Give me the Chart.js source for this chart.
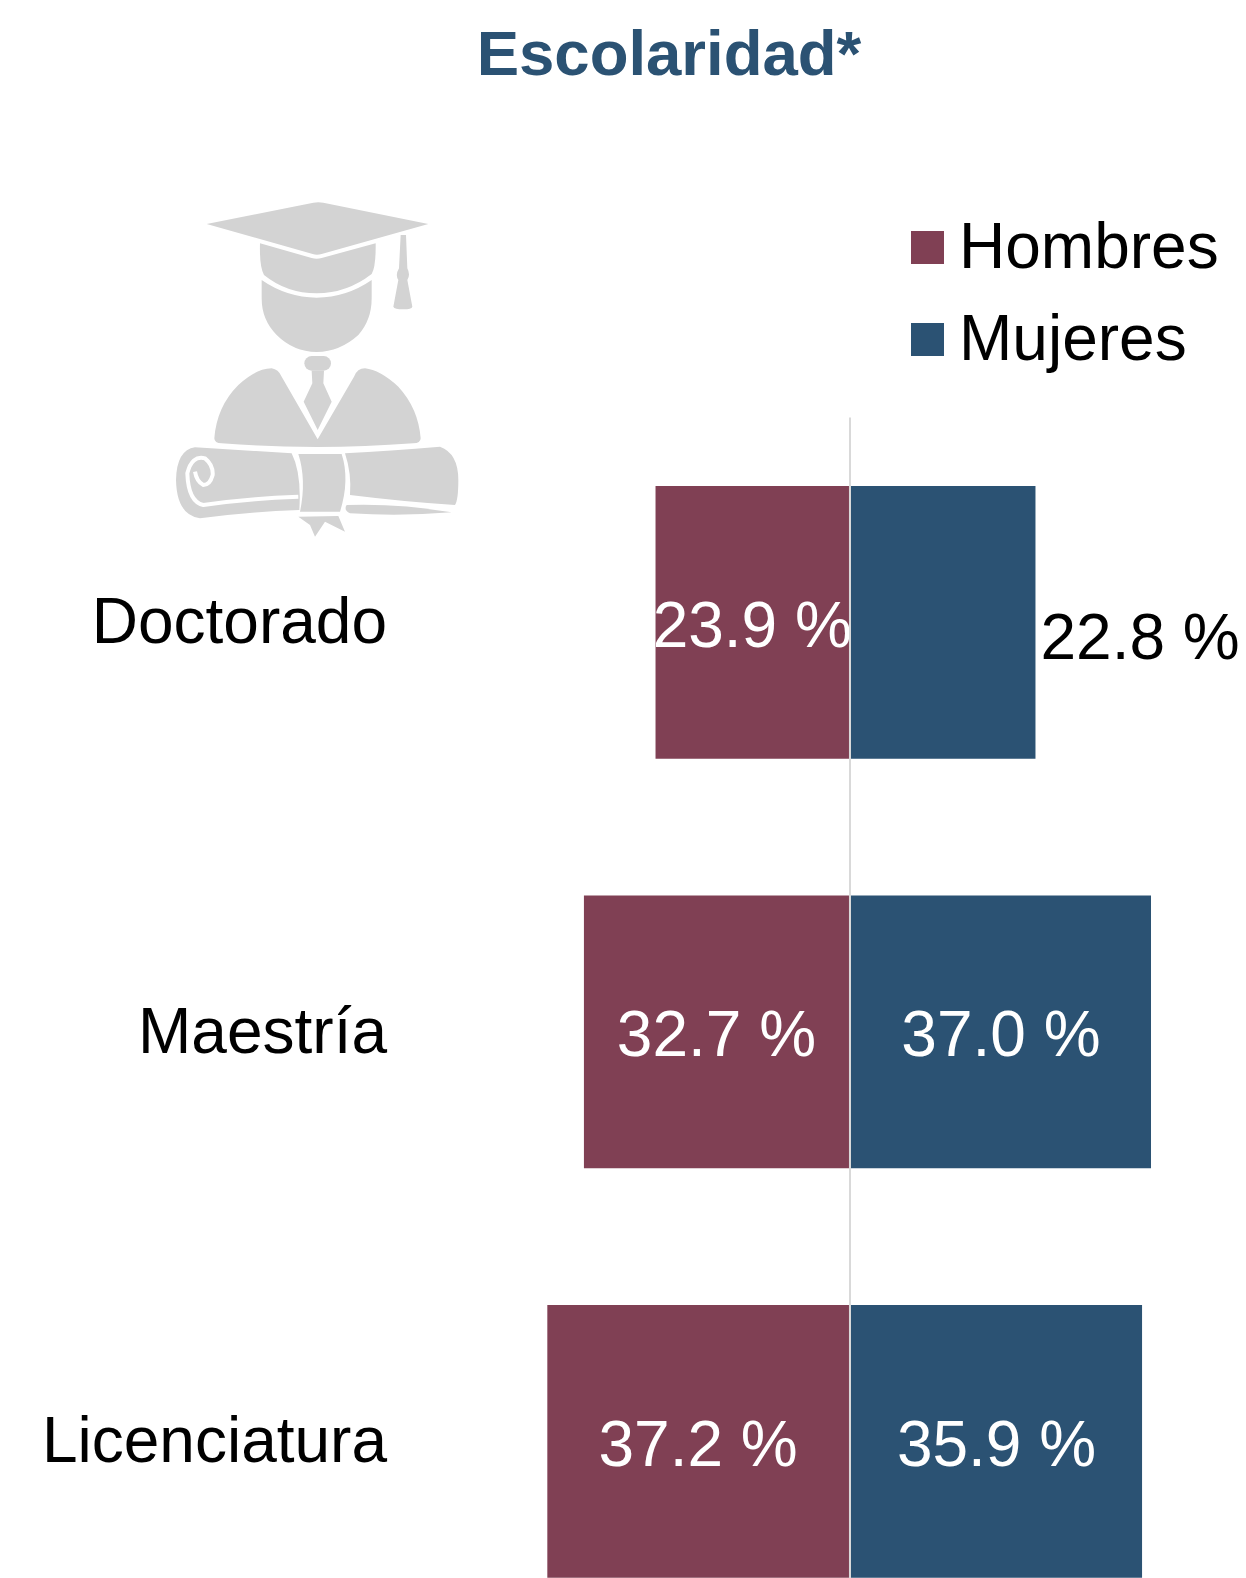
<!DOCTYPE html>
<html lang="es">
<head>
    <meta charset="UTF-8">
    <title>Escolaridad</title>
    <script src="https://cdn.jsdelivr.net/npm/chart.js"></script>
    <style>
        html, body {
            margin: 0;
            width: 1246px;
            height: 1578px;
            overflow: hidden;
            background: #fff;
            font-family: "Liberation Sans", Arial, sans-serif;
        }
        #lienzo {
            position: absolute;
            left: 0;
            top: 0;
        }
        h1 {
            position: absolute;
            left: 0;
            top: 15px;
            width: 1338px;
            margin: 0;
            text-align: center;
            font-size: 63.5px;
            line-height: 76px;
            font-weight: bold;
            color: #2b5273;
        }
        #icono {
            position: absolute;
            left: 150px;
            top: 180px;
            filter: blur(0.5px);
        }
        #leyenda {
            position: absolute;
            left: 911px;
            top: 201px;
        }
        .item {
            display: flex;
            align-items: center;
            height: 92px;
            font-size: 64px;
            color: #000;
        }
        .item b {
            font-weight: normal;
            position: relative;
            top: -1px;
        }
        .cuadro {
            width: 33px;
            height: 33px;
            margin-right: 15px;
        }
    </style>
</head>
<body>
    <h1>Escolaridad*</h1>

    <svg id="icono" width="330" height="370" viewBox="0 0 990 1110" fill="#d3d3d3">
        <path d="M170,132 L490,68 Q505,66 520,68 L835,132 L515,222 Q500,226 488,222 Z"/>
        <path d="M330,190 L485,234 Q500,238 515,234 L677,190 Q678,260 665,282 Q590,340 500,340 Q410,340 342,285 Q328,260 330,190 Z"/>
        <path d="M335,300 Q410,352 500,353 Q590,352 665,300 L665,355 Q665,420 625,465 Q570,515 500,516 Q430,515 380,465 Q335,420 335,355 Z"/>
        <path d="M752,165 L768,165 L772,265 Q782,285 772,300 L787,380 Q785,388 760,388 Q733,388 730,380 L745,300 Q735,285 747,265 Z"/>
        <rect x="463" y="528" width="80" height="44" rx="22"/>
        <path d="M485,572 L522,572 L520,610 L545,665 L503,750 L461,665 L487,610 Z"/>
        <path d="M193,775 Q200,680 265,615 Q320,565 365,565 Q385,568 395,590 L503,778 L612,590 Q622,565 645,565 Q690,570 745,620 Q805,685 812,775 Q812,790 790,790 Q500,812 215,790 Q193,790 193,775 Z"/>
        <path d="M135,802 L425,820 Q455,880 448,990 Q300,995 150,1015 Q80,1005 78,900 Q80,810 135,802 Z"/>
        <path d="M445,950 Q300,955 160,975 Q115,965 112,880 Q125,825 165,835 Q190,855 188,885 Q180,915 160,915 Q140,905 135,875" fill="none" stroke="#fff" stroke-width="12"/>
        <path d="M445,822 L575,822 Q600,900 570,995 L450,995 Q470,900 445,822 Z"/>
        <path d="M585,820 Q720,812 870,800 Q925,820 925,900 Q925,960 915,975 Q760,965 600,945 Q605,880 585,820 Z"/>
        <path d="M590,975 Q750,970 905,997 Q750,1010 600,1000 Q580,990 590,975 Z"/>
        <path d="M445,1010 L565,1008 L585,1055 L525,1025 L495,1070 L480,1035 Z"/>
    </svg>

    <div id="leyenda"></div>
    <canvas id="lienzo" width="1246" height="1700"></canvas>

    <script>
        const categorias = ['Doctorado', 'Maestría', 'Licenciatura'];
        const hombres = [23.9, 32.7, 37.2];
        const mujeres = [22.8, 37.0, 35.9];
        const colorHombres = '#804054';
        const colorMujeres = '#2b5273';

        // Etiquetas de valor sobre cada barra
        const etiquetasBarras = {
            id: 'etiquetasBarras',
            afterDatasetsDraw(chart) {
                const ctx = chart.ctx;
                ctx.save();
                ctx.font = '64px "Liberation Sans"';
                ctx.textBaseline = 'middle';
                chart.data.datasets.forEach((dataset, i) => {
                    chart.getDatasetMeta(i).data.forEach((barra, j) => {
                        const valor = Math.abs(dataset.data[j]);
                        const texto = valor.toFixed(1) + ' %';
                        // La barra mas corta lleva la etiqueta afuera
                        if (valor < 23) {
                            ctx.fillStyle = '#000';
                            ctx.textAlign = 'left';
                            ctx.fillText(texto, barra.x + 5, barra.y + 19.5);
                        } else {
                            ctx.fillStyle = '#fff';
                            ctx.textAlign = 'center';
                            ctx.fillText(texto, (barra.x + barra.base) / 2, barra.y + 7);
                        }
                    });
                });
                ctx.restore();
            }
        };

        const grafico = new Chart(document.getElementById('lienzo'), {
            type: 'bar',
            data: {
                labels: categorias,
                datasets: [
                    { label: 'Hombres', data: hombres.map(v => -v), backgroundColor: colorHombres },
                    { label: 'Mujeres', data: mujeres, backgroundColor: colorMujeres }
                ]
            },
            options: {
                indexAxis: 'y',
                responsive: false,
                animation: false,
                categoryPercentage: 0.666,
                barPercentage: 1,
                layout: { padding: { top: 417.5, right: 5.5, bottom: 12.5, left: 0 } },
                plugins: {
                    legend: { display: false },
                    title: { display: false },
                    tooltip: { enabled: false }
                },
                scales: {
                    x: {
                        stacked: true,
                        min: -55,
                        max: 48,
                        afterBuildTicks: scale => { scale.ticks = [{ value: 0 }]; },
                        ticks: { display: false },
                        border: { display: false },
                        grid: { color: '#d9d9d9', lineWidth: 2, drawTicks: false, z: 1 }
                    },
                    y: {
                        stacked: true,
                        afterFit: scale => { scale.width = 402.5; },
                        ticks: {
                            color: '#000',
                            padding: 15.5,
                            labelOffset: 3.5,
                            font: { family: '"Liberation Sans"', size: 64 }
                        },
                        border: { display: false },
                        grid: { display: false, drawTicks: false }
                    }
                }
            },
            plugins: [etiquetasBarras]
        });

        // Leyenda armada con los datos del grafico
        const leyenda = document.getElementById('leyenda');
        grafico.data.datasets.forEach(dataset => {
            const item = document.createElement('div');
            item.className = 'item';
            item.innerHTML = `<span class="cuadro" style="background:${dataset.backgroundColor}"></span><b>${dataset.label}</b>`;
            leyenda.appendChild(item);
        });
    </script>
</body>
</html>
